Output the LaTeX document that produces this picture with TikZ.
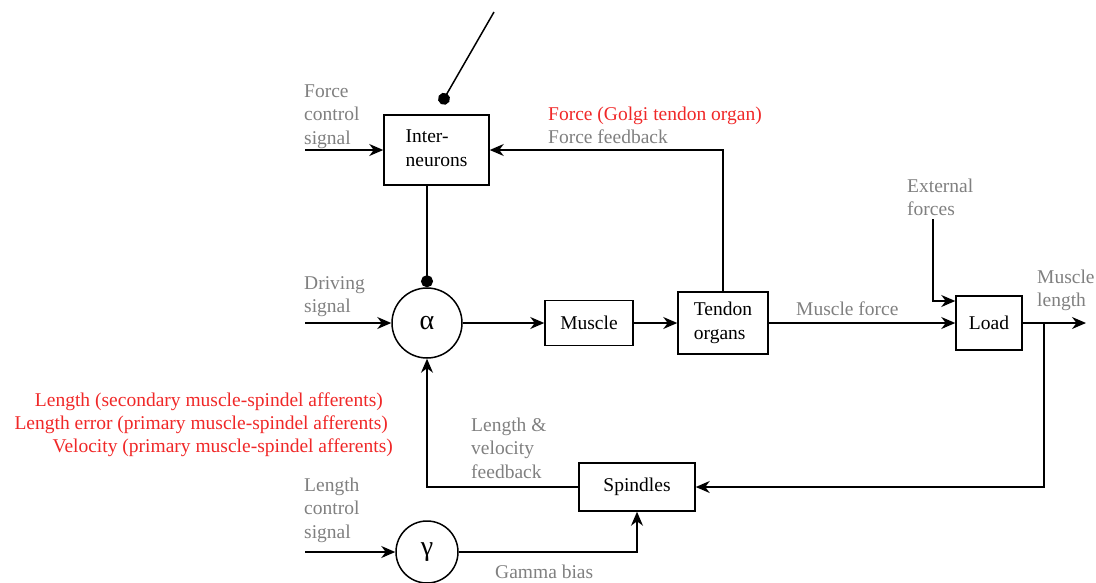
\documentclass[tikz,border=0pt]{standalone}
\usepackage{fontspec}
\setmainfont{Liberation Serif}
\usetikzlibrary{arrows.meta,calc}
\definecolor{lblgray}{RGB}{128,128,128}
\definecolor{lblred}{RGB}{240,40,40}
\newcommand\leftlines[1]{\begin{tabular}[t]{@{}l@{}}#1\end{tabular}}
\newcommand\boxlines[1]{\begin{tabular}{@{}l@{}}#1\end{tabular}}
\begin{document}
\begin{tikzpicture}[x=1pt,y=-1pt,
  every node/.style={font=\fontsize{19.5}{23.5}\selectfont},
  block/.style={draw,line width=1.5pt,inner sep=0pt},
  sumnode/.style={draw,circle,line width=1.5pt,inner sep=0pt,font=\fontsize{28}{32}\selectfont},
  lbl/.style={text=lblgray,inner sep=0pt,anchor=base west},
  redlbl/.style={text=lblred,inner sep=0pt,anchor=base east},
  conn/.style={line width=1.5pt,-{Stealth[length=14pt,width=12pt,inset=4.5pt]}},
  dotconn/.style={line width=1.5pt,-{Circle[length=12pt]}}]
\useasboundingbox (0,0) rectangle (1096,582);

% blocks
\node[block,minimum width=105pt,minimum height=70pt] (inter) at (436.5,150) {\boxlines{Inter-\\neurons}};
\node[block,minimum width=88pt,minimum height=45pt] (muscle) at (589,323) {Muscle};
\node[block,minimum width=90pt,minimum height=62pt] (tendon) at (723,323) {\boxlines{Tendon\\organs}};
\node[block,minimum width=66pt,minimum height=54pt] (load) at (989,323) {Load};
\node[block,minimum width=116pt,minimum height=48pt] (spindles) at (637,487) {Spindles};
\node[sumnode,minimum size=70pt] (alpha) at (427,323) {α};
\node[sumnode,minimum size=62pt] (gamma) at (427,552) {γ};

% labels
\node[lbl] (lforce) at (304,97) {\leftlines{Force\\control\\signal}};
\node[lbl] (ldrive) at (304,289) {\leftlines{Driving\\signal}};
\node[lbl] (lfb) at (548,120) {\leftlines{\textcolor{lblred}{Force (Golgi tendon organ)}\\Force feedback}};
\node[lbl] (lext) at (907,192) {\leftlines{External\\forces}};
\node[lbl] (lmf) at (796,315) {Muscle force};
\node[lbl] (lml) at (1037,283) {\leftlines{Muscle\\length}};
\node[lbl] (llv) at (471,431) {\leftlines{Length \&\\velocity\\feedback}};
\node[lbl] (llc) at (304,491) {\leftlines{Length\\control\\signal}};
\node[lbl] (lgb) at (495,578) {Gamma bias};
\node[redlbl] (r1) at (383,406) {Length (secondary muscle-spindel afferents)};
\node[redlbl] (r2) at (388,429) {Length error (primary muscle-spindel afferents)};
\node[redlbl] (r3) at (393,452) {Velocity (primary muscle-spindel afferents)};

% free ends
\coordinate (fcin) at (305,150);
\coordinate (drin) at (305,323);
\coordinate (lcin) at (305,552);
\coordinate (extin) at (933,219);
\coordinate (mlout) at (1086,323);
\coordinate (branch) at (1044,323);
\coordinate (swtop) at (494,12);
\coordinate (swend) at (441,104);

% connectors
\draw[conn] (fcin) -- (inter.west);
\draw[conn] (tendon.north) |- (inter.east);
\draw[dotconn] (inter.south -| alpha.north) -- (alpha.north);
\draw[dotconn] (swtop) -- (swend);
\draw[conn] (drin) -- (alpha.west);
\draw[conn] (alpha.east) -- (muscle.west);
\draw[conn] (muscle.east) -- (tendon.west);
\draw[conn] (tendon.east) -- (load.west);
\draw[conn] (extin) |- ([yshift=22pt]load.west);
\draw[conn] (load.east) -- (mlout);
\draw[conn] (branch) |- (spindles.east);
\draw[conn] (spindles.west) -| (alpha.south);
\draw[conn] (lcin) -- (gamma.west);
\draw[conn] (gamma.east) -| (spindles.south);
\end{tikzpicture}
\end{document}
